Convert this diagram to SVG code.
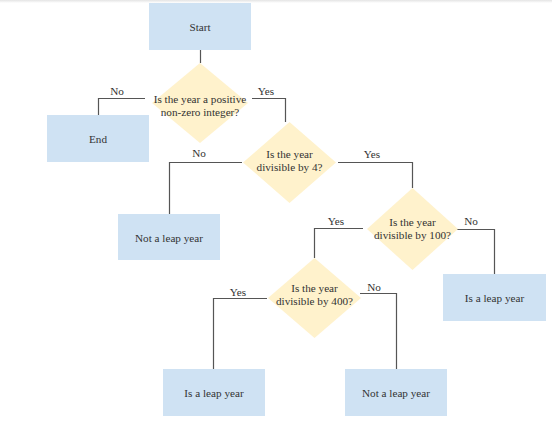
<svg xmlns="http://www.w3.org/2000/svg" width="552" height="439" viewBox="0 0 552 439">
<style>
.box{fill:#cfe2f3;}
.dia{fill:#fff2cc;}
.t{font-family:"Liberation Serif","Times New Roman",serif;font-size:11.2px;fill:#333;text-anchor:middle;}
.c{fill:none;stroke:#555;stroke-width:1.2;}
</style>
<defs>
<linearGradient id="top" x1="0" y1="0" x2="0" y2="1"><stop offset="0" stop-color="#e4e4e4"/><stop offset="1" stop-color="#ffffff"/></linearGradient>
</defs>
<rect x="0" y="0" width="552" height="439" fill="#ffffff"/>
<rect x="0" y="0" width="552" height="3" fill="url(#top)"/>
<g id="connectors">
<path class="c" d="M200.5,50 V63"/>
<path class="c" d="M145,98.5 H98.5 V115"/>
<path class="c" d="M252,98.5 H285.5 V122"/>
<path class="c" d="M242,162.5 H169.5 V214"/>
<path class="c" d="M338,162.5 H412.5 V188"/>
<path class="c" d="M363,228.5 H314.5 V258"/>
<path class="c" d="M456,229.5 H494.5 V274"/>
<path class="c" d="M267,298.5 H213.5 V369"/>
<path class="c" d="M360,293.5 H396.5 V369"/>
</g>
<g id="labels">
<text class="t" x="117" y="95">No</text>
<text class="t" x="266" y="95">Yes</text>
<text class="t" x="199" y="157">No</text>
<text class="t" x="372" y="158">Yes</text>
<text class="t" x="336" y="225">Yes</text>
<text class="t" x="471" y="225">No</text>
<text class="t" x="238" y="296">Yes</text>
<text class="t" x="374" y="291">No</text>
</g>
<g id="start"><rect class="box" x="149" y="3" width="102" height="47"/><text class="t" x="200" y="31">Start</text></g>
<g id="q1"><polygon class="dia" points="200,63 248,103 200,143 152,103"/><text class="t" x="200" y="103">Is the year a positive</text><text class="t" x="200" y="116">non-zero integer?</text></g>
<g id="end"><rect class="box" x="47" y="115" width="102" height="47"/><text class="t" x="98" y="143">End</text></g>
<g id="q2"><polygon class="dia" points="289.5,122 336,162.5 289.5,203 243,162.5"/><text class="t" x="289.5" y="158">Is the year</text><text class="t" x="289.5" y="171">divisible by 4?</text></g>
<g id="notleap1"><rect class="box" x="118" y="214" width="102" height="46"/><text class="t" x="169" y="242">Not a leap year</text></g>
<g id="q3"><polygon class="dia" points="412.5,188 458,229 412.5,270 367,229"/><text class="t" x="412.5" y="226">Is the year</text><text class="t" x="412.5" y="239">divisible by 100?</text></g>
<g id="leap1"><rect class="box" x="443" y="274" width="103" height="47"/><text class="t" x="494.5" y="302">Is a leap year</text></g>
<g id="q4"><polygon class="dia" points="314.5,258 361,298 314.5,338 268,298"/><text class="t" x="314.5" y="292">Is the year</text><text class="t" x="314.5" y="305">divisible by 400?</text></g>
<g id="leap2"><rect class="box" x="163" y="369" width="102" height="47"/><text class="t" x="214" y="397">Is a leap year</text></g>
<g id="notleap2"><rect class="box" x="345" y="369" width="102" height="47"/><text class="t" x="396" y="397">Not a leap year</text></g>
</svg>
